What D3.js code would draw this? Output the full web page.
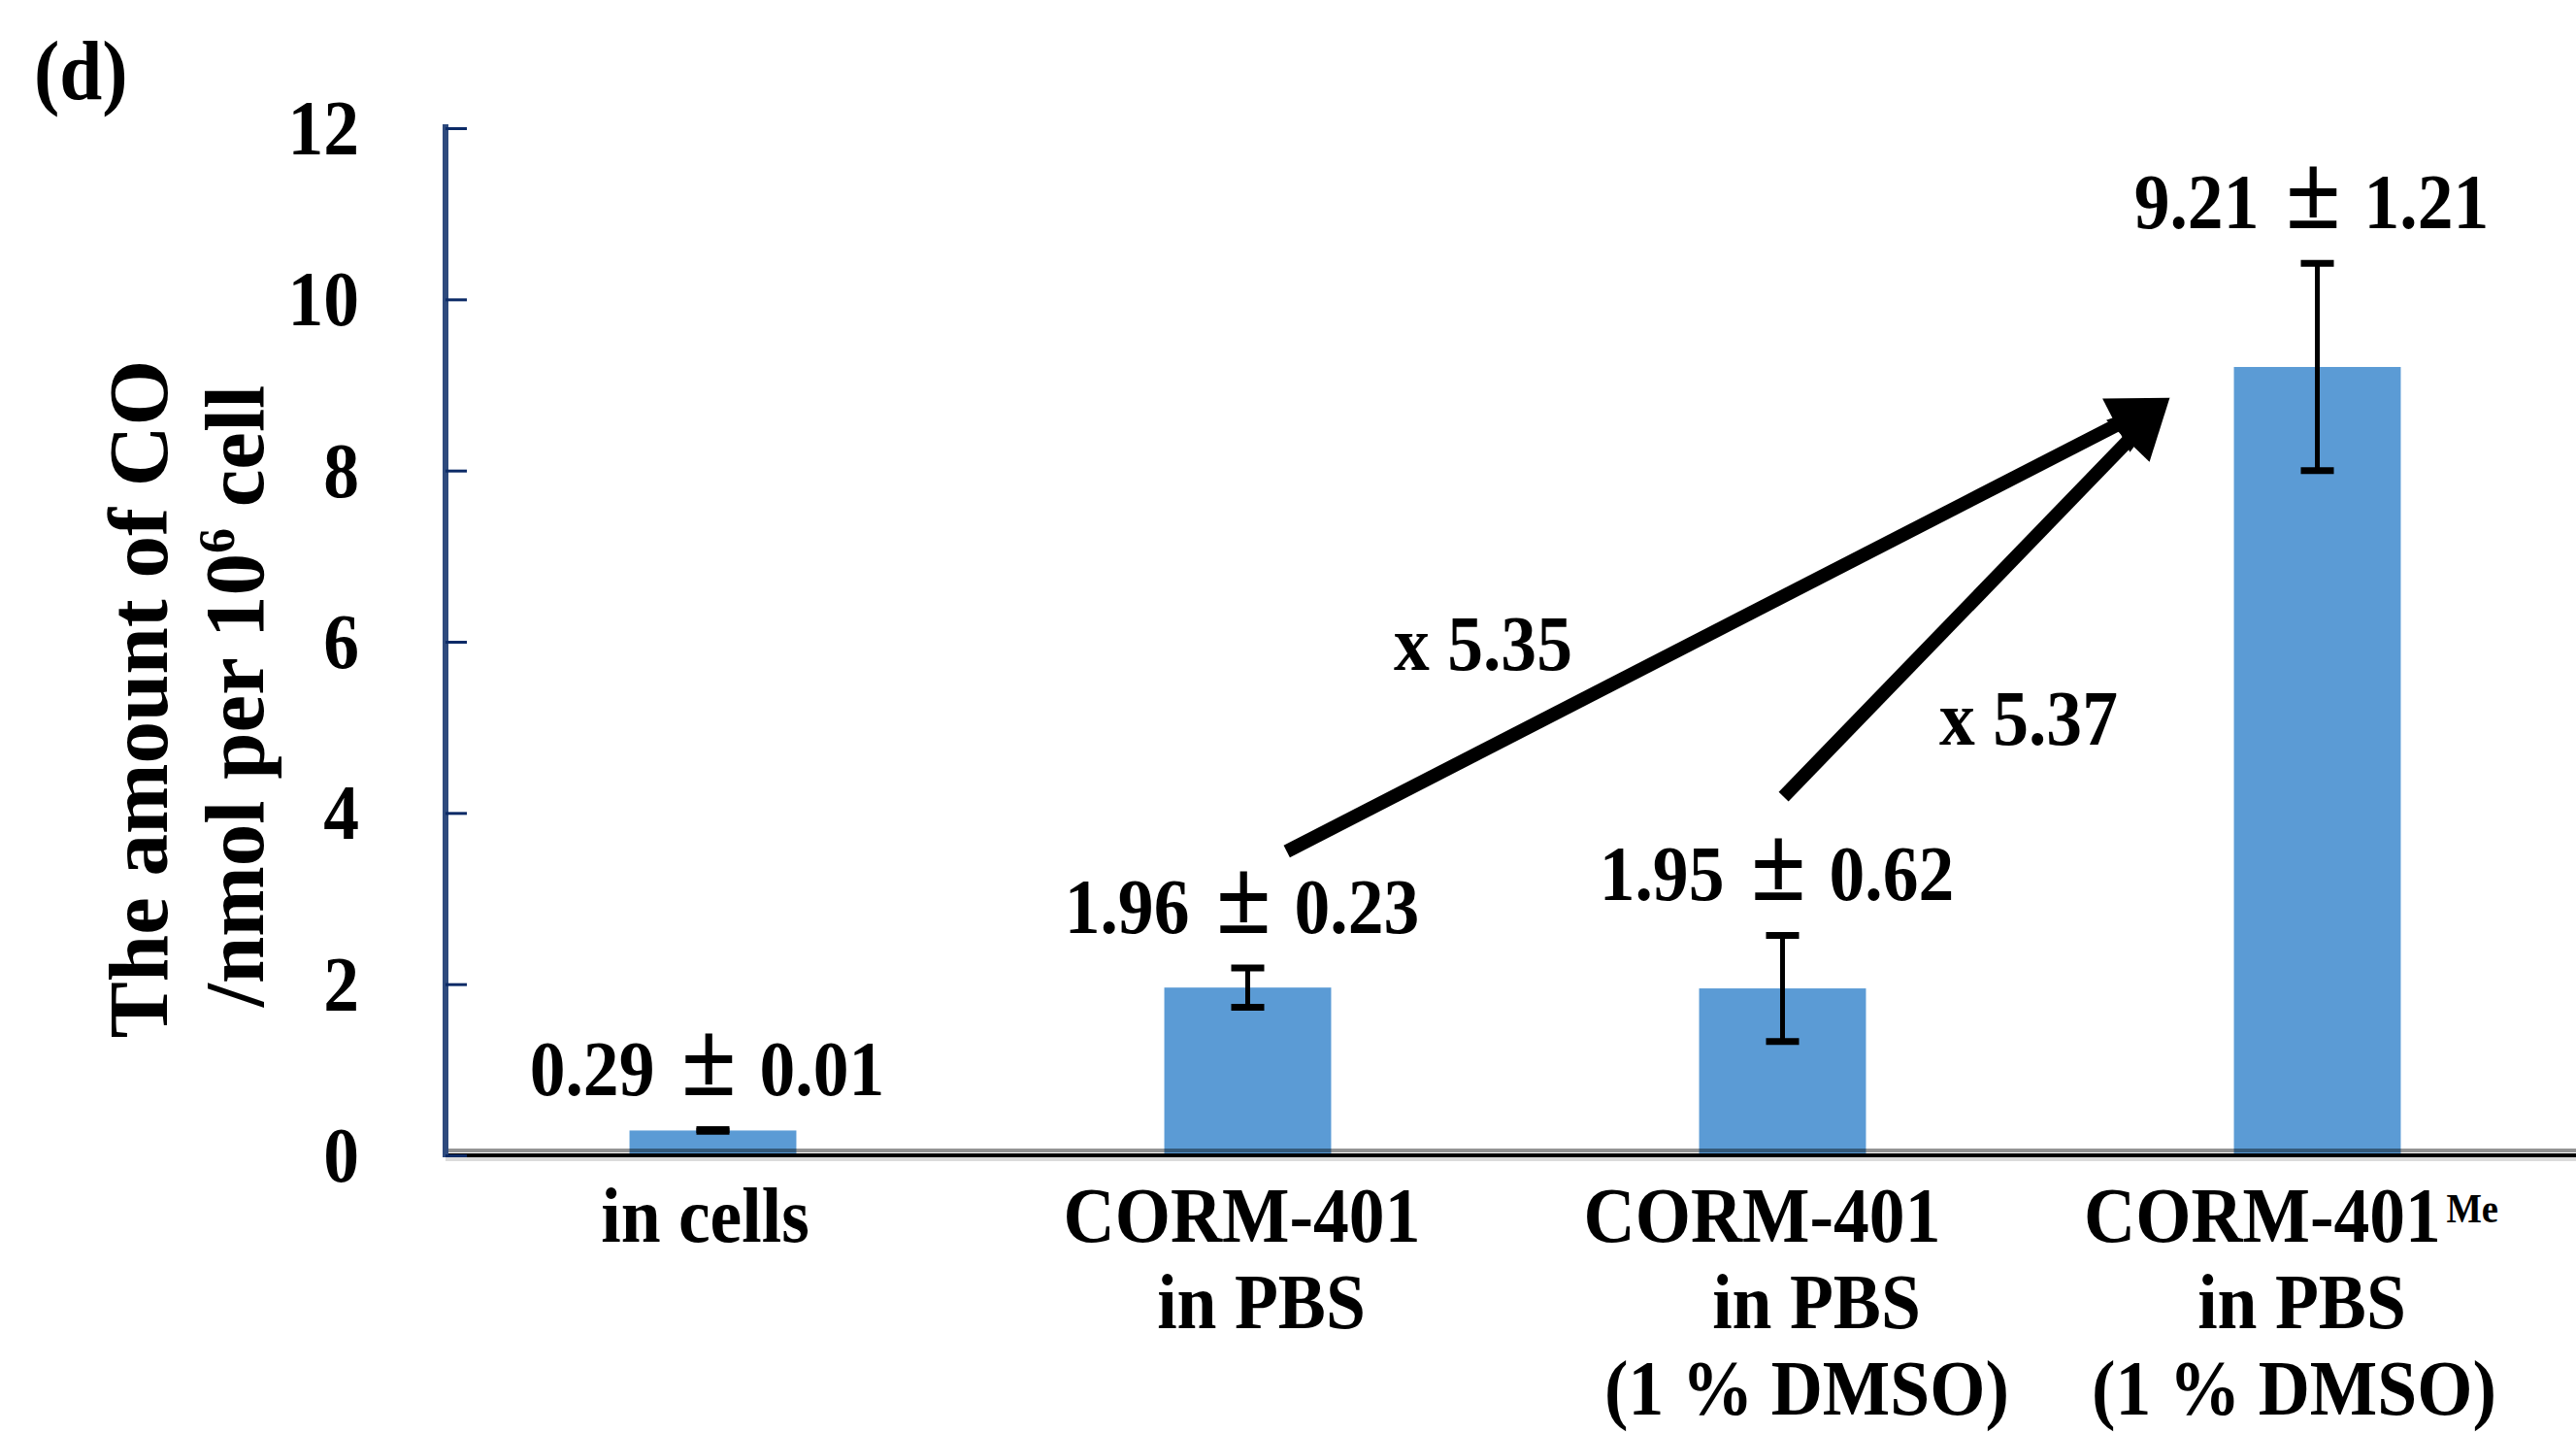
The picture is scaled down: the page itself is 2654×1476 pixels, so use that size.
<!DOCTYPE html>
<html>
<head>
<meta charset="utf-8">
<script src="https://cdn.jsdelivr.net/npm/d3@7"></script>
<style>
  html, body { margin: 0; padding: 0; background: #ffffff; overflow: hidden; }
  svg { display: block; }
  text { font-family: "Liberation Serif", "Times New Roman", serif; font-weight: bold; fill: #000; }
</style>
</head>
<body>
<script>
// CO released per 10^6 cells, mean ± SD
const categories = ["in cells", "CORM-401 in PBS", "CORM-401 in PBS (1 % DMSO)", "CORM-401Me in PBS (1 % DMSO)"];
const categoryLines = [
  ["in cells"],
  ["CORM-401", "in PBS"],
  ["CORM-401", "in PBS", "(1 % DMSO)"],
  ["CORM-401", "in PBS", "(1 % DMSO)"]
];
const categorySuperscripts = ["", "", "", "Me"];
const means = [0.29, 1.96, 1.95, 9.21];
const sds = [0.01, 0.23, 0.62, 1.21];
const yTicks = [0, 2, 4, 6, 8, 10, 12];

// fold-change annotations (arrow ends in category-index / value units)
const foldLabels = ["x 5.35", "x 5.37"];
const foldLabelIndex = [1.44, 2.46];
const foldLabelValue = [5.67, 4.80];
const arrowFromIndex = [1.073, 2.002];
const arrowFromValue = [3.55, 4.19];
const arrowToIndex = [2.724, 2.724];
const arrowToValue = [8.85, 8.85];

const W = 2654, H = 1476;
const plot = { left: 459, right: 2663, top: 132, bottom: 1190 };
const SX = 0.92;          // narrow set of the serif face
const FS = 80;

// per-line horizontal nudges and baselines of the category labels
const lineShift = [[-8], [-6, 14], [-21, 35, 25], [-27, -16, -24]];
const lineOffsets = [89, 178, 267];

const svg = d3.select("body").append("svg").attr("width", W).attr("height", H);
svg.append("rect").attr("width", W).attr("height", H).attr("fill", "#fff");

const x = d3.scaleBand().domain(categories)
  .range([plot.left, plot.right]).paddingInner(0.688).paddingOuter(0.344);
const y = d3.scaleLinear().domain([0, 12]).range([plot.bottom, plot.top]);
const cx = i => x(categories[0]) + x.bandwidth() / 2 + i * x.step();

// horizontal text helper (condensed)
function htext(parent, px, py, size, anchor) {
  return parent.append("g").attr("transform", `translate(${px},${py}) scale(${SX},1)`)
    .append("text").attr("font-size", size).attr("text-anchor", anchor || "middle");
}

// bars
svg.append("g").selectAll("rect").data(categories).join("rect")
  .attr("x", d => x(d)).attr("width", x.bandwidth())
  .attr("y", (d, i) => y(means[i])).attr("height", (d, i) => y(0) - y(means[i]))
  .attr("fill", "#5B9BD5");

// error bars
const eb = svg.append("g").attr("stroke", "#000");
categories.forEach((c, i) => {
  const mx = x(c) + x.bandwidth() / 2;
  const lo = y(means[i] - sds[i]), hi = y(means[i] + sds[i]);
  eb.append("line").attr("x1", mx).attr("x2", mx).attr("y1", lo).attr("y2", hi).attr("stroke-width", 5);
  [lo, hi].forEach(v => eb.append("line").attr("x1", mx - 17).attr("x2", mx + 17)
    .attr("y1", v).attr("y2", v).attr("stroke-width", 7));
});

// x axis line
svg.append("line").attr("x1", plot.left).attr("x2", W).attr("y1", y(0) - 5).attr("y2", y(0) - 5)
  .attr("stroke", "rgba(0,0,0,0.42)").attr("stroke-width", 4);
svg.append("line").attr("x1", plot.left).attr("x2", W).attr("y1", y(0)).attr("y2", y(0))
  .attr("stroke", "#000").attr("stroke-width", 4);
svg.append("line").attr("x1", plot.left).attr("x2", W).attr("y1", y(0) + 4).attr("y2", y(0) + 4)
  .attr("stroke", "rgba(0,0,0,0.14)").attr("stroke-width", 4);

// y axis with inward ticks
const yAxis = d3.axisRight(y).tickValues(yTicks).tickSize(22).tickFormat("");
const ya = svg.append("g").attr("transform", `translate(${plot.left},0)`).call(yAxis);
ya.select(".domain").attr("d", `M0,${y(12) - 4}V${y(0) + 2}`)
  .attr("stroke", "#2E4A7D").attr("stroke-width", 6);
ya.selectAll(".tick line").attr("stroke", "#0B2A66").attr("stroke-width", 3);

// y tick labels
yTicks.forEach(t => {
  htext(svg, 370, y(t) + 27, FS, "end").text(d3.format("d")(t));
});

// x category labels
categories.forEach((c, i) => {
  const mx = x(c) + x.bandwidth() / 2;
  categoryLines[i].forEach((ln, k) => {
    const t = htext(svg, mx + lineShift[i][k], y(0) + lineOffsets[k], FS, "middle");
    t.append("tspan").text(ln);
    if (k === 0 && categorySuperscripts[i]) {
      t.append("tspan").attr("font-size", 42).attr("dx", 6).attr("dy", -20).text(categorySuperscripts[i]);
    }
  });
});

// mean ± SD labels above the error bars
const f2 = d3.format(".2f");
categories.forEach((c, i) => {
  const mx = x(c) + x.bandwidth() / 2 - 6;
  const t = htext(svg, mx, y(means[i] + sds[i]) - 36, FS, "middle");
  t.append("tspan").text(f2(means[i]));
  t.append("tspan").attr("font-size", 112).attr("dx", 30).text("±");
  t.append("tspan").attr("dx", 26).text(f2(sds[i]));
});

// fold-change arrows
const ag = svg.append("g");
const HEAD_L = 62, HEAD_W = 31;
arrowFromIndex.forEach((fi, k) => {
  const x0 = cx(fi), y0 = y(arrowFromValue[k]);
  const x1 = cx(arrowToIndex[k]), y1 = y(arrowToValue[k]);
  const len = Math.hypot(x1 - x0, y1 - y0);
  const ux = (x1 - x0) / len, uy = (y1 - y0) / len;
  const bx = x1 - ux * HEAD_L, by = y1 - uy * HEAD_L;
  ag.append("line").attr("x1", x0).attr("y1", y0).attr("x2", bx + ux * 4).attr("y2", by + uy * 4)
    .attr("stroke", "#000").attr("stroke-width", 14);
  ag.append("path")
    .attr("d", d3.line()([[x1, y1], [bx - uy * HEAD_W, by + ux * HEAD_W], [bx + uy * HEAD_W, by - ux * HEAD_W]]) + "Z")
    .attr("fill", "#000");
});
foldLabels.forEach((lab, k) => {
  htext(svg, cx(foldLabelIndex[k]), y(foldLabelValue[k]), FS, "middle").text(lab);
});

// y axis title (two lines)
const t1 = svg.append("g").attr("transform", "translate(172,720) rotate(-90)")
  .append("text").attr("font-size", 87).attr("text-anchor", "middle");
t1.text("The amount of CO");
const t2 = svg.append("g").attr("transform", "translate(271,717) rotate(-90)")
  .append("text").attr("font-size", 87).attr("text-anchor", "middle");
t2.append("tspan").text("/nmol per 10");
t2.append("tspan").attr("font-size", 52).attr("dy", -30).text("6");
t2.append("tspan").attr("dy", 30).text(" cell");

// panel tag
htext(svg, 35, 102, 86, "start").text("(d)");
</script>
</body>
</html>
